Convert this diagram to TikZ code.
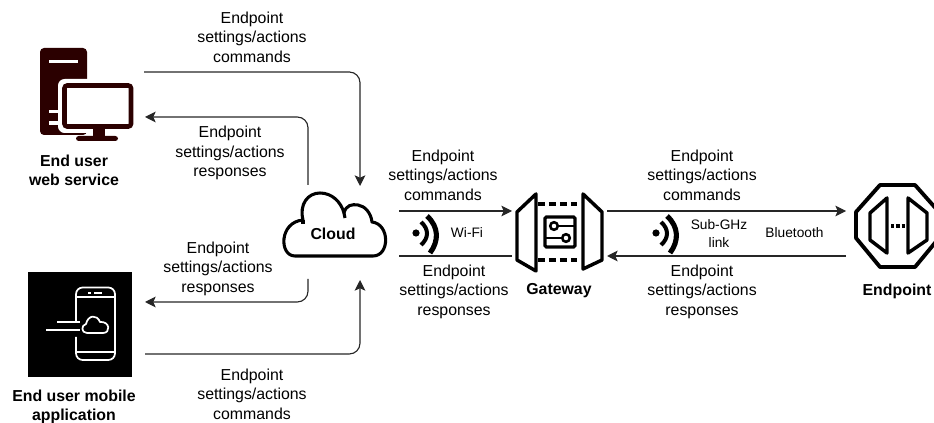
\documentclass[tikz,border=0pt]{standalone}
\usepackage{fontspec}
\setmainfont{Liberation Sans}
\usetikzlibrary{arrows.meta}
\definecolor{towerred}{HTML}{2B0000}

\tikzset{
  msgtxt/.style={align=center, font=\fontsize{11.9}{14.6}\selectfont, inner sep=0pt},
  smalltxt/.style={align=center, font=\fontsize{10.3}{13.5}\selectfont, inner sep=0pt},
  nametxt/.style={align=center, font=\fontsize{11.9}{14.3}\selectfont\bfseries, inner sep=0pt},
  linkline/.style={draw=black!85, line width=0.85pt, rounded corners=8pt},
  arrowtip/.style={-{Stealth[length=8pt,width=8pt,inset=1.8pt]}},
  iconline/.style={line width=2.6pt, line join=round},
  waves/.style={line width=3pt}
}

\begin{document}
\begin{tikzpicture}[x=0.75pt, y=-0.75pt]
    \useasboundingbox (0,0) rectangle (934,423);

    % end user web service
    \fill[towerred, rounded corners=3pt] (40,135) -- (40,48) -- (87,48) -- (87,135) -- cycle;
    \fill[white] (49,60) rectangle (78,63);
    \fill[white] (49,110) rectangle (62,113);
    \fill[white] (49,121) rectangle (62,125);
    \fill[white, rounded corners=5pt] (58,79) rectangle (136,133);
    \draw[towerred, line width=3.4pt, rounded corners=2pt, fill=white] (64.5,85.5) rectangle (131,126.5);
    \fill[towerred] (93,128) rectangle (105,137);
    \fill[towerred, rounded corners=2pt] (76,136) rectangle (118,141);

    % end user mobile application
    \fill[black] (28,272) rectangle (132,377);
    \begin{scope}[white, line width=1.3pt]
      \draw[rounded corners=5pt] (76,322) -- (76,287.5) -- (115,287.5) -- (115,360) -- (76,360) -- (76,337);
      \draw (76,297) -- (115,297);
      \draw (76,352) -- (115,352);
      \draw[line width=1.6pt] (88,293) -- (91,293);
      \draw[line width=1.6pt] (94,293) -- (102,293);
      \draw (57,322) -- (80,322);
      \draw (46,330) -- (80,330);
      \draw[line join=round] (87,333) .. controls (81,333) and (81,325) .. (86,324)
        .. controls (88,315) and (97,314) .. (100,322)
        .. controls (110,321) and (111,333) .. (103,333) -- cycle;
    \end{scope}

    % cloud
    \draw[line width=2.3pt, line join=round] (295,256)
      .. controls (279,256) and (279,222) .. (303,220)
      .. controls (299,204) and (308,193) .. (320,193)
      .. controls (332,193) and (341,202) .. (344,213)
      .. controls (346,205) and (352,204) .. (358,205)
      .. controls (365,206) and (371,213) .. (372,222)
      .. controls (390,224) and (390,256) .. (373,256) -- cycle;
    \draw[line width=2.3pt] (303,220) -- (303,224);
    \draw[line width=2.3pt] (344,213) -- (345,218);

    % gateway
    \draw[iconline] (536,194) -- (517,212) -- (517,260) -- (536,271) -- cycle;
    \draw[iconline] (583,194) -- (602,212) -- (602,260) -- (583,269) -- cycle;
    \draw[iconline, dash pattern=on 5pt off 3.2pt] (538,204) -- (582,204);
    \draw[iconline, dash pattern=on 5pt off 3.2pt] (538,260) -- (582,260);
    \draw[line width=2.4pt, rounded corners=1pt] (545,217) rectangle (575,247);
    \draw[line width=1.9pt] (554,226) circle (3.8);
    \draw[line width=1.9pt] (566,238) circle (3.8);
    \draw[line width=1.9pt] (558,226) -- (575,226);
    \draw[line width=1.9pt] (545,238) -- (562,238);

    % endpoint
    \begin{scope}
      \clip (840,170) rectangle (934,290);
      \draw[line width=2.9pt, line join=round] (880,185) -- (915,185) -- (939,212) -- (939,238)
        -- (915,267) -- (880,267) -- (856,238) -- (856,212) -- cycle;
    \end{scope}
    \draw[iconline] (887,198) -- (870,213) -- (870,240) -- (887,253) -- cycle;
    \draw[iconline] (908,198) -- (927,213) -- (927,240) -- (908,253) -- cycle;
    \draw[iconline, dash pattern=on 2.6pt off 1.4pt] (891,226) -- (906,226);

    % radio waves
    \foreach \dx in {0,240} {
      \begin{scope}[xshift=\dx*0.75pt]
        \fill (416,233) circle (3.6);
        \draw[waves] (421,222) .. controls (429,229) and (429,238) .. (421,245);
        \draw[line width=3.8pt] (427,216) .. controls (439,227) and (439,241) .. (430,253);
      \end{scope}
    }

    % names
    \node[nametxt] (webname) at (74,170) {End user\\web service};
    \node[nametxt] (appname) at (74,407) {End user mobile\\application};
    \node[nametxt] (cloudname) at (333,234) {Cloud};
    \node[nametxt] (gatename) at (559,291) {Gateway};
    \node[nametxt] (endname) at (897,291) {Endpoint};

    % messages
    \node[msgtxt] (webcmd) at (252,37) {Endpoint\\settings/actions\\commands};
    \node[msgtxt] (webresp) at (230,153) {Endpoint\\settings/actions\\responses};
    \node[msgtxt] (appresp) at (218,268.5) {Endpoint\\settings/actions\\responses};
    \node[msgtxt] (appcmd) at (252,394) {Endpoint\\settings/actions\\commands};
    \node[msgtxt] (wificmd) at (443,175) {Endpoint\\settings/actions\\commands};
    \node[msgtxt] (wifiresp) at (454,291.5) {Endpoint\\settings/actions\\responses};
    \node[msgtxt] (subcmd) at (702,175) {Endpoint\\settings/actions\\commands};
    \node[msgtxt] (subresp) at (702,291.5) {Endpoint\\settings/actions\\responses};

    \node[smalltxt] (wifi) at (467,233) {Wi-Fi};
    \node[smalltxt] (subghz) at (719,234) {Sub-GHz\\link};
    \node[smalltxt] (ble) at (794.5,233) {Bluetooth};

    % connector ends
    \coordinate (webout) at (144,72);
    \coordinate (webin) at (145,117);
    \coordinate (appin) at (145,302);
    \coordinate (appout) at (145,354);
    \coordinate (cloudtop) at (360,186);
    \coordinate (cloudbot) at (360,280);
    \coordinate (cloudup) at (308,185);
    \coordinate (clouddown) at (308,279);
    \coordinate (wifiup) at (399,211);
    \coordinate (wifilow) at (399,256);
    \coordinate (gateleftup) at (512,211);
    \coordinate (gateleftlow) at (512,256);
    \coordinate (gaterightup) at (607,211);
    \coordinate (gaterightlow) at (607,256);
    \coordinate (endup) at (846,211);
    \coordinate (endlow) at (846,256);

    \draw[linkline, arrowtip] (webout) -| (cloudtop);
    \draw[linkline, arrowtip] (cloudup) |- (webin);
    \draw[linkline, arrowtip] (clouddown) |- (appin);
    \draw[linkline, arrowtip] (appout) -| (cloudbot);
    \draw[linkline, arrowtip] (wifiup) -- (gateleftup);
    \draw[linkline] (gateleftlow) -- (wifilow);
    \draw[linkline, arrowtip] (gaterightup) -- (endup);
    \draw[linkline, arrowtip] (endlow) -- (gaterightlow);
\end{tikzpicture}
\end{document}
